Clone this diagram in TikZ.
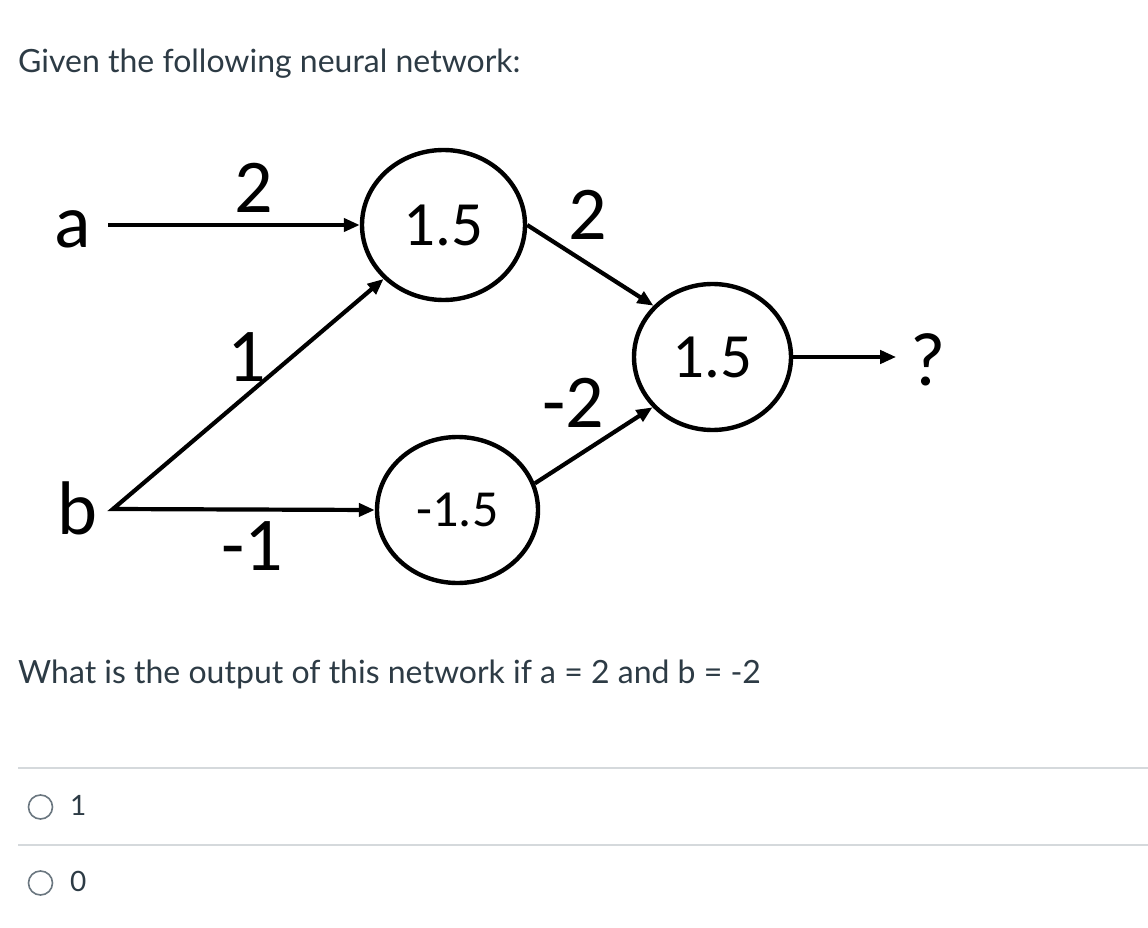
\documentclass[tikz,border=0pt]{standalone}
\usepackage{fontspec}
\setmainfont{Lato}
\newfontfamily\diagfont{Carlito}
\usetikzlibrary{arrows.meta,shapes.geometric}
\definecolor{txt}{HTML}{2D3B45}
\definecolor{sep}{HTML}{D5D9DC}
\definecolor{radio}{HTML}{6B7780}
\tikzset{
  lbl/.style={inner sep=2pt, font=\diagfont\fontsize{76}{80}\selectfont},
  neuron/.style={ellipse, draw=black, line width=4.4pt, inner sep=0pt, font=\diagfont\fontsize{63}{66}\selectfont},
  tip/.style={Triangle[length=16pt,width=13pt]},
  arr/.style={line width=4.2pt, -{Triangle[length=16pt,width=13pt]}},
  page/.style={inner sep=0pt, anchor=base west, text=txt, font=\fontsize{32}{36}\selectfont},
  choice/.style={inner sep=0pt, anchor=base west, text=txt, font=\fontsize{28}{32}\selectfont},
  radiobtn/.style={circle, draw=radio, line width=1.6pt, minimum size=24pt, inner sep=0pt},
  sepline/.style={draw=sep, line width=2pt}
}
\begin{document}
\begin{tikzpicture}[x=1pt,y=-1pt]
\useasboundingbox[fill=white] (0,0) rectangle (1148,928);
% page text
\node[page] (title) at (18,73) {Given the following neural network:};
\node[page] (question) at (18,683) {What is the output of this network if a = 2 and b = -2};
% network
\node[neuron, minimum width=163pt, minimum height=150pt] (h1) at (443.5,225) {1.5};
\node[neuron, minimum width=161pt, minimum height=146pt] (h2) at (457.5,510) {\fontsize{52}{56}\selectfont -1.5};
\node[neuron, minimum width=157pt, minimum height=146pt] (out) at (712.5,357) {1.5};
\node[lbl] (a) at (73,229.5) {a};
\node[lbl] (b) at (77,508) {b};
\node[lbl] (q) at (928,360) {?};
\coordinate (bv) at (113,509);
\draw[arr, shorten <=15pt] (a.east |- h1.west) -- (h1.west);
\draw[line width=4.2pt, {Triangle[length=16pt,width=13pt]}-{Triangle[length=16pt,width=13pt]}, line join=miter] (h1.222) -- (bv) -- (h2.west);
\draw[arr] (h1.east) -- (out.139);
\draw[arr] (h2.19) -- (out.220);
\draw[arr, shorten >=12pt] (out.east) -- (q.west |- out.east);
% weights
\node[lbl, anchor=base] (w1) at (254,213) {2};
\node[lbl, anchor=base] (w2) at (247,381) {1};
\node[lbl, anchor=base] (w3) at (252,570) {-1};
\node[lbl, anchor=base] (w4) at (588,240) {2};
\node[lbl, anchor=base] (w5) at (573,427) {-2};
% choices
\draw[sepline] (18,768) -- (1148,768);
\draw[sepline] (18,845) -- (1148,845);
\node[radiobtn] (r1) at (40.5,807) {};
\node[radiobtn] (r0) at (40.5,883) {};
\node[choice] (c1) at (70,815) {1};
\node[choice] (c0) at (70,891) {0};
\end{tikzpicture}
\end{document}
